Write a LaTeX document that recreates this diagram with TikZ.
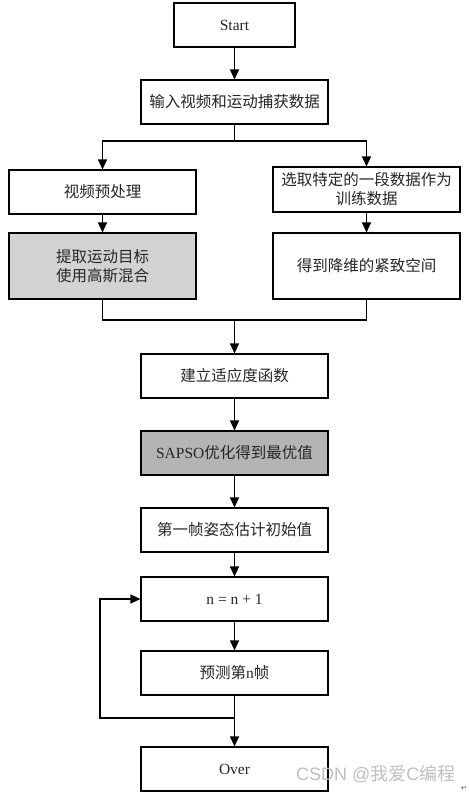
\documentclass[tikz,border=0pt]{standalone}
\usepackage{fontspec}
\setmainfont{Liberation Serif}
\newfontfamily\cjk{Noto Sans CJK SC}
\newfontfamily\wmfont{Liberation Sans}
\newfontfamily\symfont{DejaVu Sans}
\usetikzlibrary{arrows.meta}
\definecolor{lightbox}{HTML}{D3D3D3}
\definecolor{darkbox}{HTML}{B4B4B4}
\tikzset{
  box/.style={draw=black, line width=1.1pt, rectangle, minimum width=187pt, minimum height=44pt,
    inner sep=1pt, align=center, font=\fontsize{15.5}{19}\selectfont, text=black!85},
  conn/.style={line width=1.1pt, draw=black},
  arr/.style={conn, -{Triangle[width=9pt,length=10pt]}},
}
\begin{document}
\begin{tikzpicture}[x=1pt,y=-1pt]
\useasboundingbox (0,0) rectangle (470,795);
\fill[white] (0,0) rectangle (470,795);
\node[box, minimum width=121pt] (start) at (234.5,25) {Start};
\node[box] (input) at (234.5,102) {\cjk 输入视频和运动捕获数据};
\node[box] (pre) at (102.5,192) {\cjk 视频预处理};
\node[box, fill=lightbox, minimum height=66pt] (gmm) at (102.5,266) {\cjk 提取运动目标\\\cjk 使用高斯混合};
\node[box, minimum height=45pt, inner sep=0pt] (sel) at (366.5,189.5) {\cjk 选取特定的一段数据作为\\\cjk 训练数据};
\node[box, minimum height=66pt] (comp) at (366.5,266) {\cjk 得到降维的紧致空间};
\node[box] (fit) at (234.5,376) {\cjk 建立适应度函数};
\node[box, fill=darkbox] (sapso) at (234.5,453) {SAPSO{\cjk 优化得到最优值}};
\node[box] (init) at (234.5,530) {\cjk 第一帧姿态估计初始值};
\node[box] (inc) at (234.5,599) {n = n + 1};
\node[box] (pred) at (234.5,673) {{\cjk 预测第}n{\cjk 帧}};
\node[box] (over) at (234.5,769) {Over};

\coordinate (split) at (234.5,141);
\coordinate (merge) at (234.5,320);
\coordinate (loop) at (234.5,718);
\coordinate (loopl) at (100,718);

\draw[arr] (start) -- (input);
\draw[conn] (input.south) -- (split);
\draw[arr] (split) -| (pre.north);
\draw[arr] (split) -| (sel.north);
\draw[arr] (pre) -- (gmm);
\draw[arr] (sel) -- (comp);
\draw[conn] (gmm.south) |- (merge);
\draw[conn] (comp.south) |- (merge);
\draw[arr] (merge) -- (fit.north);
\draw[arr] (fit) -- (sapso);
\draw[arr] (sapso) -- (init);
\draw[arr] (init) -- (inc);
\draw[arr] (inc) -- (pred);
\draw[conn] (pred.south) -- (loop);
\draw[arr] (loop) -- (over.north);
\draw[arr] (loop) -- (loopl) |- (inc.west);

\node[anchor=west, inner sep=0pt, text=black!25, font=\wmfont\fontsize{18}{20}\selectfont] (wm) at (296,774) {CSDN @{\cjk 我爱}C{\cjk 编程}};
\node[inner sep=0pt, text=black!70, font=\symfont\fontsize{7}{8}\selectfont] (ret) at (464,788) {↵};
\end{tikzpicture}
\end{document}
